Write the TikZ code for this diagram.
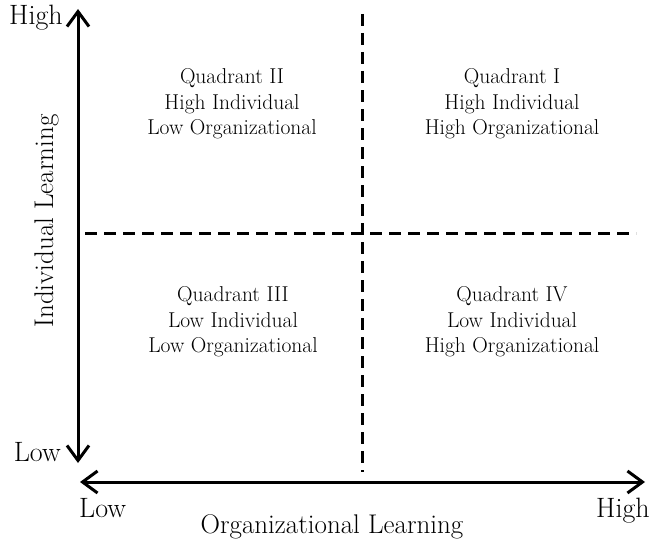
\documentclass[tikz,border=0pt]{standalone}
\usepackage{tikz}
\usetikzlibrary{arrows.meta}

\begin{document}
\begin{tikzpicture}[
        x=1pt, y=-1pt,
        every node/.style={font=\fontsize{21.5}{25.5}\selectfont},
        tick/.style={font=\fontsize{28}{32}\selectfont, inner sep=0pt},
        title/.style={font=\fontsize{27}{30}\selectfont, inner sep=0pt},
        axis/.style={line width=3pt, {Straight Barb[length=15pt,width=22pt,line width=3pt]}-{Straight Barb[length=15pt,width=22pt,line width=3pt]}},
        divider/.style={line width=3pt, dash pattern=on 12pt off 7pt},
        quad/.style={align=center, inner sep=0pt}
    ]
        \useasboundingbox (0,0) rectangle (653,543);

        % Axes
        \coordinate (ytop) at (78,9);
        \coordinate (ybot) at (78,463);
        \coordinate (xleft) at (80,482);
        \coordinate (xright) at (645,482);
        \draw[axis] (ybot) -- (ytop);
        \draw[axis] (xleft) -- (xright);

        % Dividers
        \coordinate (vtop) at (362,14);
        \coordinate (vbot) at (362,472);
        \coordinate (hleft) at (85,233);
        \coordinate (hright) at (636,233);
        \draw[divider] (vtop) -- (vbot);
        \draw[divider] (hleft) -- (hright);

        % Axis labels
        \node[tick, anchor=base east] (yhigh) at (63,25) {High};
        \node[tick, anchor=base east] (ylow) at (61,461) {Low};
        \node[tick, anchor=base west] (xlow) at (79,517) {Low};
        \node[tick, anchor=base east] (xhigh) at (650,517) {High};
        \node[title, anchor=base] (xlabel) at (332,533) {Organizational Learning};
        \node[title, rotate=90, anchor=base] (ylabel) at (53,221) {Individual Learning};

        % Quadrants
        \node[quad] (q2) at (232,104) {Quadrant II\\High Individual\\Low Organizational};
        \node[quad] (q1) at (512,104) {Quadrant I\\High Individual\\High Organizational};
        \node[quad] (q3) at (233,322) {Quadrant III\\Low Individual\\Low Organizational};
        \node[quad] (q4) at (512,322) {Quadrant IV\\Low Individual\\High Organizational};

    \end{tikzpicture}
\end{document}
